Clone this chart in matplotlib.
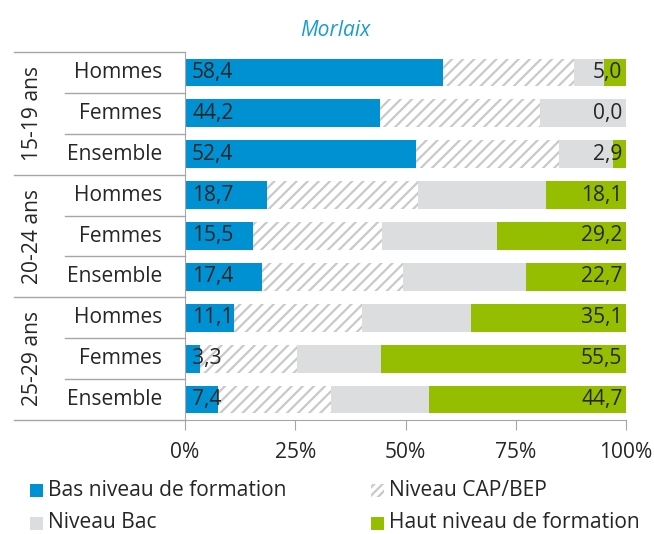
import matplotlib
matplotlib.use("Agg")
import matplotlib.pyplot as plt
from matplotlib.patches import Rectangle
from matplotlib.transforms import blended_transform_factory

plt.rcParams['font.family'] = ['Open Sans', 'DejaVu Sans']
plt.rcParams['hatch.linewidth'] = 1.6

groups = ["15-19 ans", "20-24 ans", "25-29 ans"]
rows = ["Hommes", "Femmes", "Ensemble"]

# parts in % per row (15-19 H/F/E, 20-24 H/F/E, 25-29 H/F/E)
bas = [58.4, 44.2, 52.4, 18.7, 15.5, 17.4, 11.1, 3.3, 7.4]
cap = [29.8, 36.2, 32.4, 34.1, 29.2, 32.0, 29.0, 22.1, 25.7]
bac = [6.8, 19.6, 12.3, 29.1, 26.1, 27.9, 24.8, 19.1, 22.2]
haut = [5.0, 0.0, 2.9, 18.1, 29.2, 22.7, 35.1, 55.5, 44.7]

series = ["Bas niveau de formation", "Niveau CAP/BEP", "Niveau Bac", "Haut niveau de formation"]
colors = ["#0091D2", "white", "#DCDDDE", "#95BE00"]
hatch_col = "#C9C9C9"
fs = 15.1

W, H = 654, 534
fig = plt.figure(figsize=(W / 100, H / 100), dpi=100)
ax = fig.add_axes([185 / W, 1 - 420 / H, 441 / W, 368 / H])

n = len(bas)
ypos = list(range(n))
left = [0.0] * n
for vals, col, name in zip([bas, cap, bac, haut], colors, series):
    if name == "Niveau CAP/BEP":
        ax.barh(ypos, vals, left=left, height=0.68, color="white",
                edgecolor=hatch_col, linewidth=0, hatch="///")
    else:
        ax.barh(ypos, vals, left=left, height=0.68, color=col, linewidth=0)
    left = [l + v for l, v in zip(left, vals)]

txt = "#262626"
for i in range(n):
    ax.text(1.6, i, f"{bas[i]:.1f}".replace(".", ","), va="center", ha="left",
            fontsize=fs, color=txt)
    ax.text(99.2, i, f"{haut[i]:.1f}".replace(".", ","), va="center", ha="right",
            fontsize=fs, color=txt)

ax.set_xlim(0, 100)
ax.set_ylim(n - 0.5, -0.5)
ax.set_yticks([])
ax.set_xticks([0, 25, 50, 75, 100])
ax.set_xticklabels(["0%", "25%", "50%", "75%", "100%"], fontsize=fs, color=txt)
ax.tick_params(axis="x", length=7, color="#A6A6A6", pad=9)
for s in ["top", "right"]:
    ax.spines[s].set_visible(False)
ax.spines["left"].set_color("#A6A6A6")
ax.spines["bottom"].set_color("#A6A6A6")

# table on the left
tr = blended_transform_factory(ax.transAxes, ax.transData)
x_grp = (14 - 185) / 441
x_row = (65 - 185) / 441
line_kw = dict(color="#A6A6A6", lw=1, transform=tr, clip_on=False)
ax.plot([x_grp, 0], [-0.5, -0.5], **line_kw)
for g in range(len(groups)):
    for r in range(len(rows)):
        i = g * len(rows) + r
        ax.text((162 - 185) / 441, i, rows[r], ha="right", va="center",
                fontsize=fs, color=txt, transform=tr)
        if r < len(rows) - 1:
            ax.plot([x_row, 0], [i + 0.5, i + 0.5], **line_kw)
    ax.plot([x_grp, 0], [g * 3 + 2.5, g * 3 + 2.5], **line_kw)
    ax.text((32 - 185) / 441, g * 3 + 1, groups[g], ha="center", va="center",
            rotation=90, fontsize=fs, color=txt, transform=tr)

fig.text(335 / W, 1 - 30 / H, "Morlaix", ha="center", va="center",
         fontsize=fs, style="italic", color="#1A9AD6")

# legend
leg_pos = [(30, 490), (371, 490), (30, 523), (371, 523)]
for k, (px, py) in enumerate(leg_pos):
    sq = Rectangle((px / W, 1 - (py + 6.5) / H), 13 / W, 13 / H, transform=fig.transFigure,
                   facecolor=colors[k], edgecolor=hatch_col if k == 1 else "none",
                   linewidth=0, hatch="////" if k == 1 else None)
    fig.add_artist(sq)
    fig.text((px + 18) / W, 1 - py / H, series[k], ha="left", va="center",
             fontsize=fs, color=txt)

fig.savefig("out.png", dpi=100)
